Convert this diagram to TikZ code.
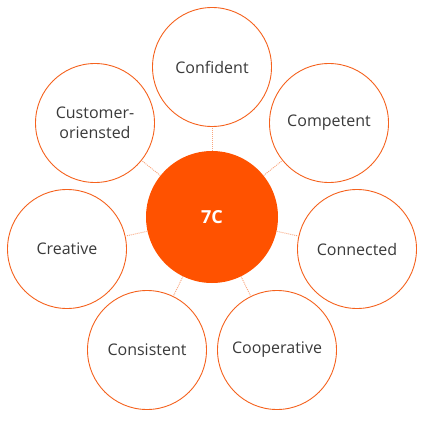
\documentclass[tikz,border=0pt]{standalone}
\usepackage{fontspec}
\setmainfont{Open Sans}
\definecolor{brand}{HTML}{FF5200}
\definecolor{ring}{HTML}{F5621E}
\definecolor{link}{HTML}{F9A67E}
\definecolor{ink}{HTML}{3A3A3A}
\begin{document}
\begin{tikzpicture}[x=1pt,y=-1pt,
  hub/.style={circle,fill=brand,draw=none,minimum size=132pt,inner sep=0pt,
    text=white,font=\fontsize{18}{20}\selectfont\bfseries},
  petal/.style={circle,draw=ring,line width=0.9pt,fill=white,minimum size=119pt,inner sep=0pt,
    text=ink,font=\fontsize{16}{20}\selectfont,align=center},
  spoke/.style={draw=link,line width=0.9pt,dash pattern=on 1pt off 1pt}]
\useasboundingbox (0,0) rectangle (425,425);
\node[hub] (hub) at (212,217) {7C};
\node[petal] (confident) at (212,67) {Confident};
\node[petal] (competent) at (329,123) {Competent};
\node[petal] (connected) at (357,249) {Connected};
\node[petal] (cooperative) at (277,350) {Cooperative};
\node[petal] (consistent) at (147,350) {Consistent};
\node[petal] (creative) at (67,249) {Creative};
\node[petal] (customer) at (95,123) {Customer-\\oriensted};
\foreach \p in {confident,competent,connected,cooperative,consistent,creative,customer}
  \draw[spoke] (hub) -- (\p);
\end{tikzpicture}
\end{document}
